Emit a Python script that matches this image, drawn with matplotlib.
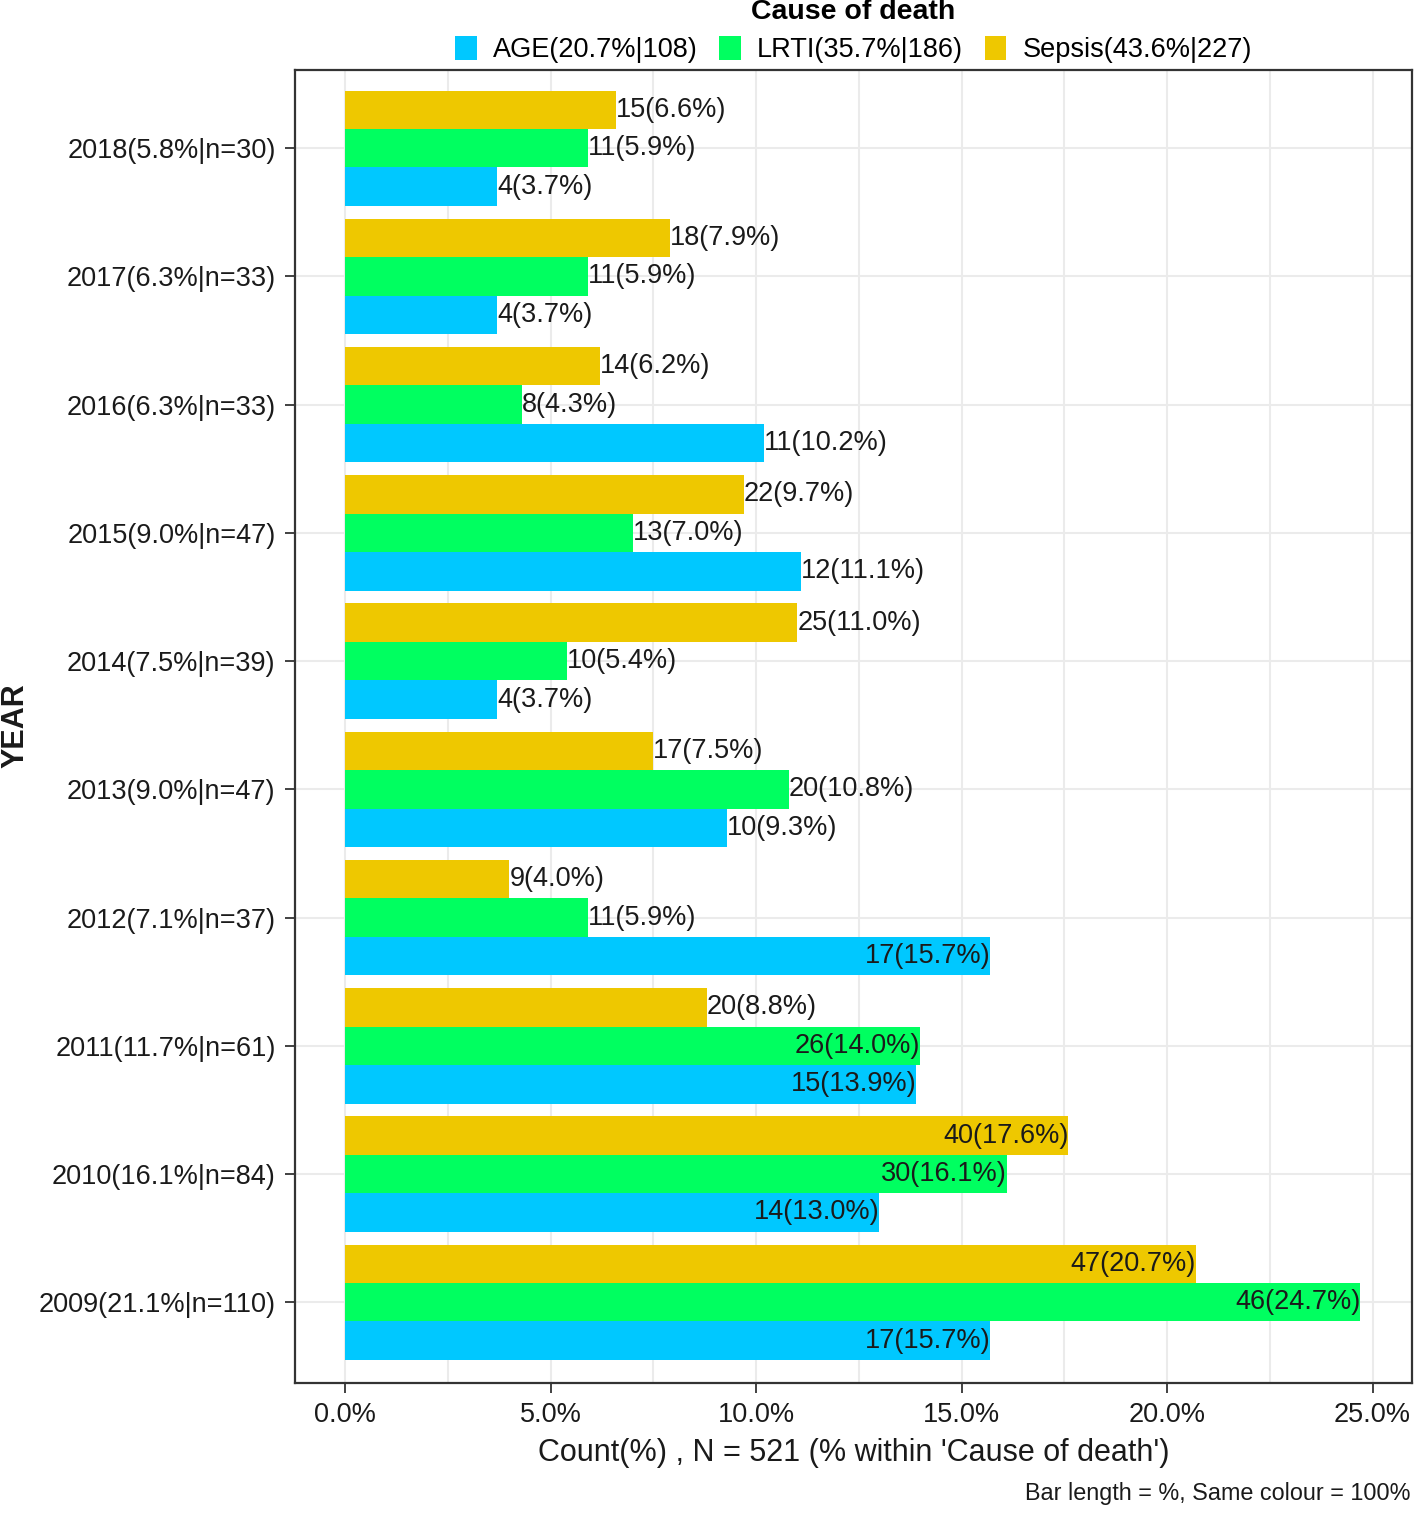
import matplotlib.pyplot as plt
import numpy as np

plt.rcParams['font.family'] = ['Liberation Sans', 'DejaVu Sans']

years = ["2018(5.8%|n=30)", "2017(6.3%|n=33)", "2016(6.3%|n=33)", "2015(9.0%|n=47)",
         "2014(7.5%|n=39)", "2013(9.0%|n=47)", "2012(7.1%|n=37)", "2011(11.7%|n=61)",
         "2010(16.1%|n=84)", "2009(21.1%|n=110)"]
age_n = [4, 4, 11, 12, 4, 10, 17, 15, 14, 17]
age_pct = [3.7, 3.7, 10.2, 11.1, 3.7, 9.3, 15.7, 13.9, 13.0, 15.7]
lrti_n = [11, 11, 8, 13, 10, 20, 11, 26, 30, 46]
lrti_pct = [5.9, 5.9, 4.3, 7.0, 5.4, 10.8, 5.9, 14.0, 16.1, 24.7]
sepsis_n = [15, 18, 14, 22, 25, 17, 9, 20, 40, 47]
sepsis_pct = [6.6, 7.9, 6.2, 9.7, 11.0, 7.5, 4.0, 8.8, 17.6, 20.7]
legend_labels = ["AGE(20.7%|108)", "LRTI(35.7%|186)", "Sepsis(43.6%|227)"]

colors = ["#00C8FF", "#00FF60", "#EEC800"]

fig = plt.figure(figsize=(14.16, 15.13), dpi=100)
ax = fig.add_axes([0.2083, 0.0859, 0.9972 - 0.2083, 0.9537 - 0.0859])

y = np.arange(len(years))[::-1].astype(float)  # 2018 on top
h = 0.3
series = [(age_n, age_pct, -h), (lrti_n, lrti_pct, 0.0), (sepsis_n, sepsis_pct, h)]
handles = []
for (cnt, pct, off), col, lab in zip(series, colors, legend_labels):
    bars = ax.barh(y + off, pct, height=h, color=col, label=lab, zorder=2)
    handles.append(bars)
    for yy, c, p in zip(y + off, cnt, pct):
        txt = f"{c}({p:.1f}%)"
        if p > 12:
            ax.text(p, yy, txt, ha="right", va="center", fontsize=19.5, color="#1a1a1a", zorder=3)
        else:
            ax.text(p, yy, txt, ha="left", va="center", fontsize=19.5, color="#1a1a1a", zorder=3)

ax.set_xlim(-1.22, 25.96)
ax.set_ylim(-0.63, 9.61)
ax.set_xticks(np.arange(0, 26, 5))
ax.set_xticklabels([f"{v:.1f}%" for v in np.arange(0, 26, 5)])
ax.set_xticks(np.arange(0, 26, 2.5), minor=True)
ax.set_yticks(y)
ax.set_yticklabels(years)
ax.tick_params(axis="both", which="major", labelsize=19.5, length=7, width=1.3,
               color="#333333", labelcolor="#1a1a1a", pad=7)
ax.tick_params(axis="x", which="minor", length=0)
ax.grid(axis="x", which="both", color="#EBEBEB", lw=1.5, zorder=0)
ax.grid(axis="y", which="major", color="#EBEBEB", lw=1.5, zorder=0)
for s in ax.spines.values():
    s.set_color("#333333")
    s.set_linewidth(1.6)

ax.set_xlabel("Count(%) , N = 521 (% within 'Cause of death')", fontsize=22,
              color="#1a1a1a", labelpad=7)
fig.text(15 / 1416, 1 - 726 / 1513, "YEAR", rotation=90, ha="center", va="center",
         fontsize=22, fontweight="bold", color="#1a1a1a")

leg = ax.legend(handles=handles, loc="lower center", bbox_to_anchor=(0.5, 0.993), ncol=3,
                frameon=False, fontsize=19.5, title="Cause of death",
                title_fontproperties={"size": 20.5, "weight": "bold"},
                handlelength=0.8, handleheight=1.0, handletextpad=0.6, columnspacing=0.8,
                borderpad=0.1, labelspacing=0.4)

fig.text(0.9958, 0.005, "Bar length = %, Same colour = 100%", ha="right", va="bottom",
         fontsize=16.8, color="#1a1a1a")

fig.savefig("out.png", dpi=100)
